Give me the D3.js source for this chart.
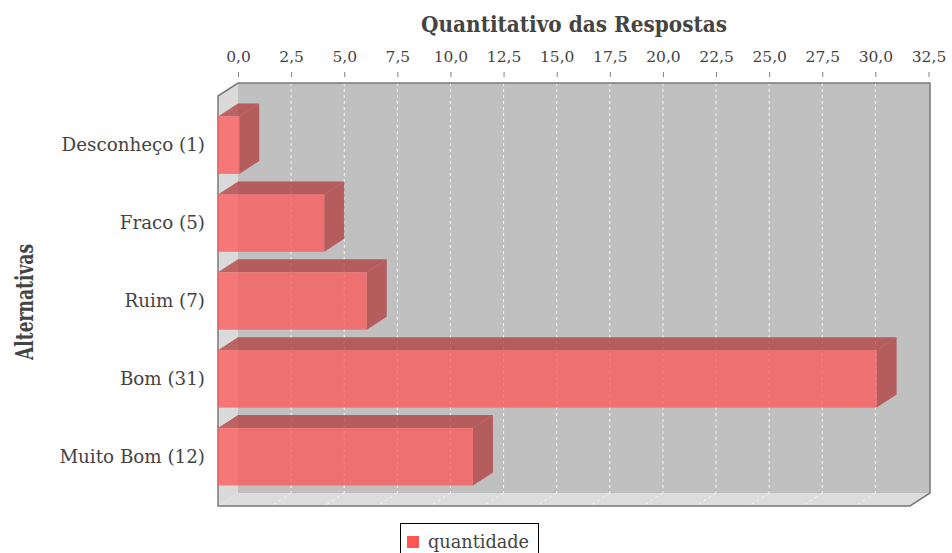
<!DOCTYPE html>
<html>
<head>
<meta charset="utf-8">
<script src="https://cdn.jsdelivr.net/npm/d3@7"></script>
<style>
  body { margin: 0; background: #fff; }
  svg { display: block; }
  .serif { font-family: "DejaVu Serif", serif; }
  .serif-c { font-family: "DejaVu Serif Condensed", "DejaVu Serif", serif; }
</style>
</head>
<body>
<svg id="chart" width="952" height="553"></svg>
<script>
// data
const categories = ["Desconheço (1)", "Fraco (5)", "Ruim (7)", "Bom (31)", "Muito Bom (12)"];
const quantidade = [1, 5, 7, 31, 12];
const tickValues = [0, 2.5, 5, 7.5, 10, 12.5, 15, 17.5, 20, 22.5, 25, 27.5, 30, 32.5];
const seriesName = "quantidade";

const svg = d3.select("#chart");

// plot geometry (front plane + 3d offset)
const plotLeft = 218, plotRight = 910, plotTop = 96, plotBottom = 506;
const dx = 20, dy = 13;

const x = d3.scaleLinear().domain([0, 32.5]).range([plotLeft, plotRight - 1.5]);
const y = d3.scaleBand().domain(categories).range([plotTop, plotBottom])
  .paddingInner(0.263).paddingOuter(0.263);

const fmt = d => d3.format(".1f")(d).replace(".", ",");

// back wall
svg.append("rect")
  .attr("x", plotLeft + dx).attr("y", plotTop - dy)
  .attr("width", plotRight - plotLeft).attr("height", plotBottom - plotTop)
  .attr("fill", "#c0c0c0");

// left wall
svg.append("polygon")
  .attr("points", [[plotLeft, plotTop], [plotLeft + dx, plotTop - dy], [plotLeft + dx, plotBottom - dy], [plotLeft, plotBottom]].join(" "))
  .attr("fill", "#dadada");

// floor
svg.append("polygon")
  .attr("points", [[plotLeft, plotBottom], [plotLeft + dx, plotBottom - dy], [plotRight + dx, plotBottom - dy], [plotRight, plotBottom]].join(" "))
  .attr("fill", "#dcdcdc");

// gridlines on back wall and floor
const grid = svg.append("g").attr("stroke", "#f4f4f4").attr("stroke-width", 1)
  .attr("stroke-dasharray", "3,3");
grid.selectAll(".gv").data(tickValues.slice(1, -1)).enter().append("line")
  .attr("x1", d => x(d) + dx).attr("x2", d => x(d) + dx)
  .attr("y1", plotTop - dy).attr("y2", plotBottom - dy);
grid.selectAll(".gf").data(tickValues.slice(1, -1)).enter().append("line")
  .attr("x1", d => x(d) + dx).attr("x2", d => x(d))
  .attr("y1", plotBottom - dy).attr("y2", plotBottom);

// outline
svg.append("polygon")
  .attr("points", [[plotLeft, plotTop], [plotLeft + dx, plotTop - dy], [plotRight + dx, plotTop - dy],
    [plotRight + dx, plotBottom - dy], [plotRight, plotBottom], [plotLeft, plotBottom]].join(" "))
  .attr("fill", "none").attr("stroke", "#7a7a7a").attr("stroke-width", 1.5);

// 3d bars
const bars = svg.append("g")
  .selectAll(".bar").data(categories).enter().append("g").attr("class", "bar");

bars.append("polygon") // top face
  .attr("points", (d, i) => {
    const y0 = y(d), x1 = x(quantidade[i]);
    return [[plotLeft, y0], [plotLeft + dx, y0 - dy], [x1 + dx, y0 - dy], [x1, y0]].join(" ");
  })
  .attr("fill", "#b23b3b").attr("fill-opacity", 0.75);

bars.append("polygon") // side face
  .attr("points", (d, i) => {
    const y0 = y(d), y1 = y0 + y.bandwidth(), x1 = x(quantidade[i]);
    return [[x1, y0], [x1 + dx, y0 - dy], [x1 + dx, y1 - dy], [x1, y1]].join(" ");
  })
  .attr("fill", "#b23b3b").attr("fill-opacity", 0.75);

bars.append("rect") // front face
  .attr("x", plotLeft)
  .attr("y", d => y(d))
  .attr("width", (d, i) => x(quantidade[i]) - plotLeft)
  .attr("height", y.bandwidth())
  .attr("fill", "#ff5555").attr("fill-opacity", 0.75);

// range axis (top, on back plane)
const xBack = x.copy().range(x.range().map(v => v + dx));
const xAxis = svg.append("g")
  .attr("class", "serif")
  .attr("transform", "translate(0,77)")
  .call(d3.axisTop(xBack).tickValues(tickValues).tickFormat(fmt).tickSize(5).tickPadding(10));
xAxis.attr("font-family", null);
xAxis.select(".domain").remove();
xAxis.selectAll("line").attr("stroke", "#808080");
xAxis.selectAll("text").attr("font-size", 15.5).attr("fill", "#444");

// category axis
const yAxis = svg.append("g")
  .attr("class", "serif")
  .attr("transform", `translate(${plotLeft - 2},0)`)
  .call(d3.axisLeft(y).tickSize(0).tickPadding(11));
yAxis.attr("font-family", null);
yAxis.select(".domain").remove();
yAxis.selectAll("text").attr("font-size", 18.3).attr("fill", "#444");

// title
svg.append("text").attr("class", "serif-c")
  .attr("x", 574).attr("y", 32)
  .attr("text-anchor", "middle")
  .attr("font-size", 22).attr("font-weight", "bold").attr("fill", "#444")
  .attr("textLength", 306).attr("lengthAdjust", "spacingAndGlyphs")
  .text("Quantitativo das Respostas");

// y label
svg.append("text").attr("class", "serif-c")
  .attr("transform", "translate(33,302) rotate(-90)")
  .attr("text-anchor", "middle")
  .attr("font-size", 24).attr("font-weight", "bold").attr("fill", "#444")
  .attr("textLength", 116).attr("lengthAdjust", "spacingAndGlyphs")
  .text("Alternativas");

// legend
const legend = svg.append("g");
legend.append("rect")
  .attr("x", 400.5).attr("y", 523.5).attr("width", 138).attr("height", 40)
  .attr("fill", "#fff").attr("stroke", "#000").attr("stroke-width", 1);
legend.append("rect")
  .attr("x", 407).attr("y", 536).attr("width", 12).attr("height", 12)
  .attr("fill", "#ff5555");
legend.append("text").attr("class", "serif")
  .attr("x", 428).attr("y", 548)
  .attr("font-size", 17.7).attr("fill", "#444")
  .text(seriesName);
</script>
</body>
</html>
